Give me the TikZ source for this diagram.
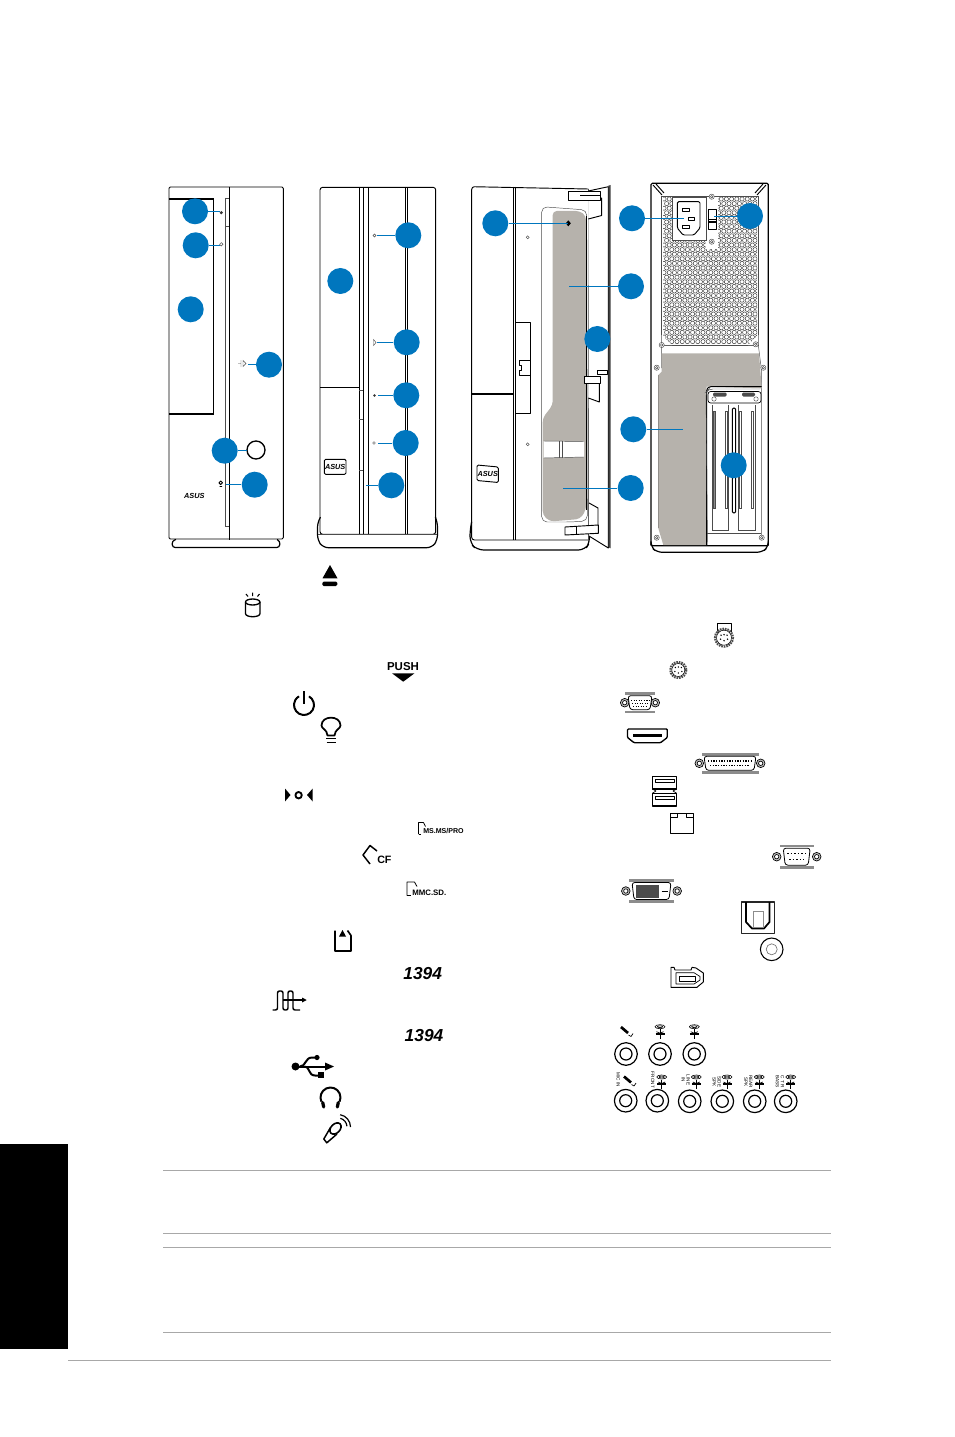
\documentclass[tikz,border=0pt]{standalone}
\usepackage{fontspec}
\setmainfont{Liberation Sans}
\definecolor{calloutblue}{HTML}{0076BE}
\definecolor{panelgray}{HTML}{B6B2AC}
\definecolor{rulegray}{HTML}{A8A8A8}
\tikzset{
  callout/.style={circle, fill=calloutblue, inner sep=0pt, minimum size=19.5pt},
  leader/.style={calloutblue, line width=0.6pt},
  caseline/.style={black, line width=0.7pt, line join=round},
  hairline/.style={black!70, line width=0.35pt},
  icon/.style={black, line width=1pt, line join=round},
  portline/.style={black, line width=0.5pt, line join=round},
  rulerline/.style={rulegray, line width=0.6pt},
  logotext/.style={inner sep=0pt, font=\bfseries\itshape\fontsize{5.5}{6}\selectfont},
  jacktext/.style={inner sep=0pt, rotate=-90, align=center, font=\fontsize{3.5}{3.7}\selectfont},
}
\begin{document}
\begin{tikzpicture}[x=0.75pt, y=-0.75pt]
  \useasboundingbox (0,0) rectangle (954,1437);

  % side tab and rules of the page
  \fill[black] (0,1144) rectangle (68,1349);
  \draw[rulerline] (163,1170) -- (831,1170);
  \draw[rulerline] (163,1233.5) -- (831,1233.5);
  \draw[rulerline] (163,1247) -- (831,1247);
  \draw[rulerline] (163,1332) -- (831,1332);
  \draw[rulerline] (68,1360) -- (831,1360);

  % 1. front, door closed
  \draw[caseline, rounded corners=1pt] (169,539) -- (169,187) -- (283.3,187) -- (283.3,539) -- cycle;
  \draw[caseline, line width=1pt] (229.3,187) -- (229.3,540);
  \draw[caseline, line width=0.9pt, rounded corners=2pt] (176,539.5) -- (172,541) -- (172.5,547.5) -- (279.5,547.5) -- (280,541) -- (277,539.5);
  \draw[black, line width=1.2pt] (169,199) -- (213.3,199) -- (213.3,414) -- (169,414);
  \draw[hairline] (225.7,198) -- (225.7,526.7) -- (229,526.7);
  \draw[hairline] (225.7,198) -- (229,198);
  \draw[hairline] (225.7,226) -- (229,226);
  \draw[caseline, line width=1pt, fill=white] (256,450) circle (9);
  \fill[black!80] (221.3,212.7) circle (1.7);
  \draw[hairline] (221.3,244.3) circle (1.7);
  \draw[hairline] (241,360) -- (241,367) (238,363.5) -- (241,363.5) (243,360.5) -- (246,363.5) -- (243,366.5) -- cycle;
  \draw[caseline] (220.7,482.8) circle (1.8) (219.5,486.5) -- (222,486.5);
  \node[logotext] (logoa) at (194.3,496) {ASUS};

  % 2. front, door open
  \draw[caseline, rounded corners=2pt] (320,534.3) -- (320,187.3) -- (435.7,187.3) -- (435.7,534.3) -- cycle;
  \draw[caseline, line width=0.9pt, rounded corners=4pt] (320,518) -- (317.5,522) -- (317.5,540) -- (323,547.7) -- (432,547.7) -- (437.5,540) -- (437.5,522) -- (435.7,518);
  \draw[hairline] (318,534.3) -- (437,534.3);
  \draw[caseline, line width=0.9pt] (359.3,187.3) -- (359.3,534.3);
  \draw[caseline, line width=0.9pt] (363.3,187.3) -- (363.3,534.3);
  \draw[caseline, line width=0.9pt] (368.3,187.3) -- (368.3,534.3);
  \draw[caseline, line width=0.9pt] (405.7,187.3) -- (405.7,534.3);
  \draw[caseline, line width=0.9pt] (407.7,187.3) -- (407.7,534.3);
  \draw[caseline, line width=1pt] (320,387.7) -- (359.3,387.7);
  \draw[hairline] (359.3,390) -- (363.3,390) (359.3,419) -- (363.3,419) (359.3,470) -- (363.3,470);
  \draw[caseline, rounded corners=1pt] (324.3,459.3) rectangle (346,474.3);
  \node[logotext] (logob) at (335.2,466.8) {ASUS};
  \draw[hairline] (374.5,235.5) circle (1.5);
  \draw[hairline] (373.5,339.5) -- (373.5,345.5) -- (376,342.5) -- cycle;
  \fill[black!80] (374.5,395.5) circle (1.4);
  \draw[hairline] (374,443) circle (1.4);

  % 3. side, cover off
  \draw[caseline, rounded corners=2pt] (588.3,540) -- (471.7,540) -- (471.7,186.7) -- (588.3,189);
  \draw[caseline, line width=0.9pt, rounded corners=5pt] (471.7,521.7) -- (470,530) -- (470,543) -- (477,550) -- (585,550) -- (590,542) -- (589,530);
  \draw[caseline] (513.3,186.7) -- (513.3,540);
  \draw[caseline] (515.7,186.7) -- (515.7,540);
  \draw[caseline, line width=1pt] (471.7,394) -- (513.3,394);
  \draw[hairline] (588.3,189) -- (588.3,540);
  \draw[caseline] (515.7,322.3) -- (530,322.3) -- (530,413.3) -- (515.7,413.3);
  \draw[portline, fill=white] (519,360) -- (530,360) -- (530,375) -- (519,375) -- (519,370) -- (521,370) -- (521,365) -- (519,365) -- cycle;
  \draw[caseline, rounded corners=1pt] (477,465) -- (498.3,467) -- (498.3,482.5) -- (477,480.5) -- cycle;
  \node[logotext] (logoc) at (487.7,473.8) {ASUS};
  \draw[hairline] (527.7,237.3) circle (1.5);
  \draw[hairline] (527.7,444.3) circle (1.5);
  % panel of the side cover
  \draw[hairline, rounded corners=4pt] (541.7,206.7) -- (586.7,210) -- (587.3,521) -- (570,522) -- (541.7,522) -- cycle;
  \fill[panelgray, rounded corners=3pt] (552.7,211) -- (580,211) -- (586,216) -- (586,510) -- (580,519) -- (550,521.5) -- (542.7,515) -- (542.7,418) -- (552.7,405) -- cycle;
  \draw[caseline] (586.3,216) -- (586.3,510);
  \fill[white] (543.5,441) -- (584,441.5) -- (584,457) -- (543.5,458) -- cycle;
  \draw[hairline] (543.5,441) -- (584,441.5) (543.5,458) -- (584,457);
  \draw[hairline] (559.5,441) -- (559.5,458) (562.5,441) -- (562.5,458);
  \fill[black] (568.3,220.3) -- (570.8,223.3) -- (568.3,226.3) -- (565.8,223.3) -- cycle;
  % door with its clips
  \draw[caseline, fill=white] (588.3,191) -- (608.3,186.7) -- (608.3,548) -- (589,536);
  \fill[black!75] (608.3,185.7) -- (610.7,185) -- (610.7,548.3) -- (608.3,547) -- cycle;
  \draw[caseline, fill=white] (588.3,198) -- (601.7,198) -- (601.7,215.5) -- (588.3,219);
  \draw[caseline, fill=white] (568.3,191.7) -- (600,191.7) -- (600,200) -- (568.3,200) -- cycle;
  \draw[caseline] (580,195) -- (600,195);
  \draw[caseline, fill=white] (597.3,370.7) rectangle (607.3,374);
  \draw[caseline, fill=white] (588.3,383.3) -- (599.3,383.3) -- (599.3,402) -- (588.3,398);
  \draw[caseline, fill=white] (584,376.7) rectangle (600,383.3);
  \draw[caseline, fill=white] (589,503) -- (598,508) -- (598,530) -- (589,530);
  \draw[caseline, fill=white] (565,527) -- (598.3,525) -- (598.3,533.3) -- (565,535) -- cycle;
  \draw[caseline] (576,526.5) -- (576,534.5);

  % 4. rear
  \draw[caseline, line width=0.9pt, rounded corners=1pt] (651,545.7) -- (651,183.3) -- (768.3,183.3) -- (768.3,545.7) -- cycle;
  \draw[caseline, line width=0.9pt, rounded corners=4pt] (651,545.7) -- (651,547) -- (657,552.3) -- (762,552.3) -- (768.3,547) -- (768.3,545.7);
  \draw[caseline] (653,185) -- (662,195) (656,184) -- (664,193);
  \draw[caseline] (766,185) -- (757,195) (763,184) -- (755,193);
  \draw[hairline] (661.7,196.7) -- (758.3,196.7) -- (758.3,345) -- (661.7,345) -- cycle;
  \draw[hairline] (661.7,345) -- (661.7,368) (758.3,345) -- (761.7,372) -- (761.7,537);
  \draw[hairline] (658.3,375) -- (658.3,528);
  % perforated grille
  \begin{scope}
    \clip (663,198) rectangle (757,344);
    \foreach \row in {0,...,31}{
      \foreach \col in {0,...,18}{
        \pgfmathsetmacro{\hx}{664+\col*5.2+mod(\row,2)*2.6}
        \pgfmathsetmacro{\hy}{199+\row*4.6}
        \draw[black!80, line width=0.35pt] (\hx,\hy) circle (2.1);
      }
    }
  \end{scope}
  \fill[white] (672.7,197.3) rectangle (718,240);
  \fill[white] (706,238) rectangle (718,249);
  \fill[white] (661.7,335) -- (672,345) -- (661.7,345) -- cycle;
  \fill[white] (758.3,335) -- (748,345) -- (758.3,345) -- cycle;
  \draw[hairline] (672.7,197.3) rectangle (706.7,240);
  \draw[caseline, rounded corners=1pt] (677.3,201.7) -- (700,201.7) -- (700,228) -- (694,235) -- (683,235) -- (677.3,228) -- cycle;
  \draw[portline] (682.3,208.3) rectangle (689,211.7);
  \draw[portline] (688.3,217.3) rectangle (694.3,220);
  \draw[portline] (682.3,225) rectangle (689,228.3);
  \draw[portline, line width=0.9pt] (708.3,209.3) rectangle (716.7,229.3) (708.3,219.3) -- (716.7,219.3);
  \fill[white] (710,213) rectangle (715,217);
  \fill[black] (709,221) rectangle (716,223);
  \foreach \sx/\sy in {711.7/196.7,711.7/241.7,661.7/345,755.7/344.3,656.7/367.7,763.3/367.7,656.7/537.7,761.7/537.7}{
    \draw[hairline, fill=white] (\sx,\sy) circle (2.6);
    \draw[hairline] (\sx,\sy) circle (1.3);
  }
  % gray area and expansion slots
  \fill[panelgray] (661.7,353.3) -- (759,353.3) -- (761.7,388.3) -- (706.7,386.7) -- (706.7,545) -- (663.3,545) -- (658.3,528.3) -- (658.3,375) -- (661.7,371.7) -- cycle;
  \draw[caseline, rounded corners=3pt] (706.7,545) -- (706.7,386.7) -- (761.7,386.7);
  \draw[hairline, rounded corners=3pt] (707.5,545) -- (706,392) -- (709,389) -- (760,389);
  \draw[portline, fill=white, rounded corners=2pt] (708,391.5) -- (761,391.5) -- (761,403) -- (708,403) -- cycle;
  \fill[black!70, rounded corners=1pt] (713,392.5) rectangle (726.7,396.5);
  \fill[black!70, rounded corners=1pt] (742,392.5) rectangle (755,396.5);
  \draw[hairline] (714,399) circle (2.2) (756,399) circle (2.2);
  \draw[hairline] (712.7,405) -- (712.7,530) -- (728.3,530) -- (728.3,405);
  \draw[hairline] (738.3,405) -- (738.3,530) -- (755,530) -- (755,405);
  \draw[hairline, fill=black!45] (713.3,411.7) rectangle (715.7,508);
  \draw[hairline, fill=white] (725.7,411.7) rectangle (727.7,508);
  \draw[hairline, fill=white] (739,411.7) rectangle (741,508);
  \draw[hairline, fill=white] (751.7,411.7) rectangle (753.7,508);
  \draw[portline, line width=0.7pt, rounded corners=1pt, fill=white] (732.3,408) rectangle (735.7,513);
  \draw[hairline] (707,533.5) -- (761,533.5);

  % callouts of all four views
  \node[callout] (a1) at (195,211.3) {};
  \node[callout] (a2) at (195.7,245.3) {};
  \node[callout] (a3) at (190.7,309.3) {};
  \node[callout] (a4) at (269,364.7) {};
  \node[callout] (a5) at (224.7,450.7) {};
  \node[callout] (a6) at (254.7,484.7) {};
  \node[callout] (b1) at (408.3,235.3) {};
  \node[callout] (b2) at (340.3,281) {};
  \node[callout] (b3) at (406.7,342.3) {};
  \node[callout] (b4) at (406.3,395.3) {};
  \node[callout] (b5) at (405.7,443) {};
  \node[callout] (b6) at (391.3,485.3) {};
  \node[callout] (c1) at (495.3,223.3) {};
  \node[callout] (c2) at (631,286.3) {};
  \node[callout] (c3) at (597.3,339) {};
  \node[callout] (c4) at (630.7,488) {};
  \node[callout] (d1) at (632,218.3) {};
  \node[callout] (d2) at (750,216) {};
  \node[callout] (d3) at (633.3,429.3) {};
  \node[callout] (d4) at (733.7,465.3) {};
  \coordinate (ea1) at (219.5,211.3);
  \coordinate (ea2) at (219.5,245.3);
  \coordinate (ea4) at (248,364.7);
  \coordinate (ea5) at (247,450.7);
  \coordinate (ea6) at (226,484.7);
  \coordinate (eb1) at (376.7,235.3);
  \coordinate (eb3) at (376.7,342.3);
  \coordinate (eb4) at (378,395.3);
  \coordinate (eb5) at (378,443);
  \coordinate (eb6) at (366,485.3);
  \coordinate (ec1) at (568.3,223.3);
  \coordinate (ec2) at (569,286.3);
  \coordinate (ec4) at (562.7,488);
  \coordinate (ed1) at (684,218.3);
  \coordinate (ed2) at (714,216);
  \coordinate (ed3) at (682.7,429.3);
  \draw[leader] (a1) -- (ea1);
  \draw[leader] (a2) -- (ea2);
  \draw[leader] (a4) -- (ea4);
  \draw[leader] (a5) -- (ea5);
  \draw[leader] (a6) -- (ea6);
  \draw[leader] (b1) -- (eb1);
  \draw[leader] (b3) -- (eb3);
  \draw[leader] (b4) -- (eb4);
  \draw[leader] (b5) -- (eb5);
  \draw[leader] (b6) -- (eb6);
  \draw[leader] (c1) -- (ec1);
  \draw[leader] (c2) -- (ec2);
  \draw[leader] (c4) -- (ec4);
  \draw[leader] (d1) -- (ed1);
  \draw[leader] (d2) -- (ed2);
  \draw[leader] (d3) -- (ed3);

  % icons of the left list
  \fill[black] (330,565) -- (337.5,578.3) -- (322.5,578.3) -- cycle;
  \fill[black, rounded corners=1pt] (322.3,581.7) rectangle (337.3,586);
  % drive
  \draw[icon] (245.5,602) -- (245.5,613.5) .. controls (245.5,617.8) and (260,617.8) .. (260,613.5) -- (260,602);
  \draw[icon] (252.7,602) ellipse (7.2 and 3);
  \draw[icon, line width=0.8pt] (252.7,592.7) -- (252.7,596) (246,594) -- (248,596.5) (259.5,594) -- (257.5,596.5);
  % door latch
  \node[inner sep=0pt, font=\bfseries\fontsize{8.6}{9}\selectfont] (pushtext) at (403,666.5) {PUSH};
  \fill[black] (392,673.3) -- (414.5,673.3) -- (403.2,681.7) -- cycle;
  % power
  \draw[icon, line width=1.5pt] (304,705) ++(-60:10) arc (-60:240:10);
  \draw[icon, line width=1.5pt] (304,691) -- (304,703.5);
  % lamp
  \draw[icon, line width=1.3pt] (327.5,735.5) .. controls (327,729) and (321.5,729) .. (321.5,725.5) .. controls (321.5,715) and (340.5,715) .. (340.5,725.5) .. controls (340.5,729) and (335,729) .. (334.5,735.5) -- cycle;
  \draw[icon, line width=1.1pt] (326,738.5) -- (336,738.5) (326.5,742.7) -- (335.5,742.7);
  % front door icon
  \fill[black] (285,788.5) -- (290.5,795) -- (285,801.5) -- cycle;
  \fill[black] (312.7,788.5) -- (307,795) -- (312.7,801.5) -- cycle;
  \draw[icon, line width=1.4pt] (298.6,795.2) circle (3.2);
  % card reader slots
  \draw[icon, line width=0.6pt] (418.5,834) -- (418.5,822.5) -- (423.5,822.5) -- (425.5,826.5);
  \draw[icon, line width=0.6pt] (418.5,834) -- (421,834);
  \node[anchor=west, inner sep=0pt, font=\bfseries\fontsize{5.3}{6}\selectfont] (mstext) at (423,831.3) {MS.MS/PRO};
  \draw[icon, line width=1.1pt] (377,851) -- (370,845.5) -- (363,855) -- (370,864);
  \node[anchor=west, inner sep=0pt, font=\bfseries\fontsize{8}{9}\selectfont] (cftext) at (377,859.5) {CF};
  \draw[icon, line width=0.6pt] (406.9,895.5) -- (406.9,882) -- (414.5,882) -- (417,886.5);
  \draw[icon, line width=0.6pt] (406.9,895.5) -- (411,895.5);
  \node[anchor=west, inner sep=0pt, font=\bfseries\fontsize{5.9}{6}\selectfont] (sdtext) at (412,892.9) {MMC.SD.};
  \draw[icon, line width=1.2pt] (335,930.5) -- (335,951) -- (351,951) -- (351,935.5) -- (347.5,930.5);
  \fill[black] (342.5,930) -- (346,936.5) -- (339,936.5) -- cycle;
  \node[inner sep=0pt, font=\bfseries\itshape\fontsize{13}{14}\selectfont] (firetexta) at (422.7,973.7) {1394};
  % spdif
  \draw[icon, line width=1.1pt, rounded corners=1.5pt] (272.5,1010) -- (277.5,1010) -- (277.5,991) -- (283,991) -- (283,1010) -- (288,1010) -- (288,991) -- (293,991) -- (293,1010) -- (300,1010);
  \draw[icon, line width=1.1pt] (283,1000) -- (303,1000);
  \fill[black] (302,997.5) -- (306.7,1000) -- (302,1002.5) -- cycle;
  \node[inner sep=0pt, font=\bfseries\itshape\fontsize{13}{14}\selectfont] (firetextb) at (424,1035.4) {1394};
  % usb
  \fill[black] (295.5,1066.5) circle (4);
  \draw[icon, line width=1.5pt] (296,1066.5) -- (326,1066.5);
  \fill[black] (325,1062.5) -- (334,1066.5) -- (325,1070.5) -- cycle;
  \draw[icon, line width=1.5pt] (300,1066.5) .. controls (306,1066.5) and (305,1057.5) .. (312,1057.5) -- (316,1057.5);
  \draw[icon, line width=1.5pt] (305,1066.5) .. controls (310,1066.5) and (308,1075.5) .. (315,1075.5) -- (320,1075.5);
  \fill[black] (317,1057.5) circle (2.6);
  \fill[black] (318,1072.3) rectangle (323.5,1077.8);
  % headphone
  \draw[icon, line width=1.5pt] (330.5,1097.5) ++(155:10) arc (-205:25:10);
  \draw[icon, line width=2.4pt, line cap=round] (322.7,1102.5) -- (323.7,1107) (338.3,1102.5) -- (337.3,1107);
  % microphone
  \draw[icon, line width=1.1pt] (330.5,1127.5) -- (323.8,1139) -- (326.8,1142.8) -- (337,1134);
  \draw[icon, line width=1.2pt, fill=white, rotate around={45:(335.5,1128.5)}] (335.5,1128.5) ellipse (6.5 and 4.5);
  \draw[icon, line width=0.9pt] (338,1127) ++(-75:9) arc (-75:-5:9);
  \draw[icon, line width=0.9pt] (338,1127) ++(-80:12.5) arc (-80:0:12.5);

  % icons of the right list
  \draw[portline, line width=0.4pt] (717.5,632) -- (717.5,623.5) -- (731.5,623.5) -- (731.5,632);
  \foreach \px/\py/\pr in {724/637.7/10,678.3/670/9}{
    \draw[black!70, line width=1.6pt, dash pattern=on 1.2pt off 0.7pt, fill=white] (\px,\py) circle (\pr-1);
    \draw[portline, line width=0.4pt] (\px,\py) circle (\pr-2.5);
    \fill[black] (\px-3,\py-2.5) circle (0.8) (\px+3,\py-2.5) circle (0.8) (\px,\py-3) circle (0.8) (\px-3.5,\py+1.5) circle (0.8) (\px+3.5,\py+1.5) circle (0.8) (\px,\py+3) circle (0.8);
  }
  % d shells
  \foreach \cx/\cy/\hw/\hh/\bw/\so in {640/702.7/10.5/7/15/15.3,730/763.3/24.5/7/28.5/30.7,796.7/856.7/12/8.5/17/20,651.5/891/18/8.5/22.5/25.7}{
    \fill[black!45] (\cx-\bw,\cy-\hh-3.5) rectangle (\cx+\bw,\cy-\hh-0.8);
    \fill[black!45] (\cx-\bw,\cy+\hh+0.8) rectangle (\cx+\bw,\cy+\hh+3.5);
    \draw[portline, fill=black!25] (\cx-\so,\cy) circle (4.3);
    \draw[portline, fill=black!25] (\cx+\so,\cy) circle (4.3);
    \draw[portline, fill=white] (\cx-\so,\cy) circle (2.2);
    \draw[portline, fill=white] (\cx+\so,\cy) circle (2.2);
    \draw[portline, line width=0.6pt, fill=white, rounded corners=2pt] (\cx-\hw-1.5,\cy-\hh) -- (\cx+\hw+1.5,\cy-\hh) -- (\cx+\hw-0.5,\cy+\hh) -- (\cx-\hw+0.5,\cy+\hh) -- cycle;
  }
  \draw[black, line width=1pt, dash pattern=on 1pt off 0.9pt] (631,700.5) -- (649,700.5) (632,703.5) -- (648,703.5) (633,706.5) -- (647,706.5);
  \draw[black, line width=1pt, dash pattern=on 1pt off 1pt] (708,761) -- (752,761) (710,765.5) -- (750,765.5);
  \draw[black, line width=1.1pt, dash pattern=on 1.2pt off 1.5pt] (787,853.5) -- (806,853.5) (789,859.5) -- (804,859.5);
  \fill[black!70] (636,884.5) rectangle (659.3,897.5);
  \draw[black, line width=0.7pt] (661.5,891.5) -- (667.5,891.5);
  % hdmi
  \draw[icon, rounded corners=0.7pt] (627.5,729) -- (667.3,729) -- (667.3,737.5) -- (660.5,742.7) -- (634,742.7) -- (627.5,737.5) -- cycle;
  \draw[icon, line width=1.6pt] (633,735.5) -- (662,735.5);
  % usb pair
  \draw[icon, line width=0.9pt] (652.3,776.7) rectangle (676.7,789);
  \draw[icon, line width=0.9pt] (652.3,793.3) rectangle (676.7,806);
  \draw[portline] (655,779.5) rectangle (674,782.5);
  \draw[portline] (655,796) rectangle (674,799);
  \draw[portline] (652.3,789) -- (656,791) -- (652.3,793.3) (676.7,789) -- (673,791) -- (676.7,793.3);
  % lan
  \draw[portline, line width=0.7pt] (670.3,813.3) rectangle (693.7,833.3);
  \draw[portline, line width=0.7pt] (670.3,817.5) -- (677.7,817.5) -- (677.7,813.3) (693.7,817.5) -- (686,817.5) -- (686,813.3);
  % optical
  \draw[icon, line width=1.2pt, black!85] (741.3,901.7) rectangle (774.3,933.3);
  \draw[icon, line width=1.3pt] (746,902) -- (746,922) -- (752,928.5) -- (764,928.5) -- (769.5,922) -- (769.5,902);
  \draw[black!45, line width=0.5pt] (753.3,911.7) rectangle (763.3,927);
  % coaxial
  \draw[portline, line width=0.8pt] (771.7,949.3) circle (11.3);
  \draw[black!55, line width=0.5pt] (771.7,949.3) circle (5.5);
  % 1394 port
  \draw[portline, line width=0.7pt] (671,987.3) -- (671,967.3) -- (674,967.3) -- (675,970) -- (691,970) -- (692,967.3) -- (696,968) -- (703.3,973) -- (703.3,982) -- (697,987.3) -- cycle;
  \draw[portline] (676,972.7) -- (694,972.7) -- (700,976.5) -- (700,980) -- (694,984) -- (676,984) -- cycle;
  \draw[portline] (679,976) rectangle (695,981);

  % audio jacks
  \foreach \jx/\jy in {626/1054,660/1054,694.3/1054,625.7/1100.7,657.3/1100.7,689.7/1101.3,722.3/1101.3,754.7/1101.3,785.7/1101.3}{
    \draw[portline, line width=0.9pt] (\jx,\jy) circle (11.3);
    \draw[portline, line width=0.9pt] (\jx,\jy) circle (6);
  }
  % speaker marks
  \foreach \sx/\sy in {660/1031.7,694.3/1031.7,661.7/1082,696.3/1082,727/1082,759.3/1082,790.7/1082}{
    \draw[portline, line width=0.45pt] (\sx,\sy-5) ellipse (5 and 2);
    \draw[portline, line width=0.45pt] (\sx,\sy-5) ellipse (2.7 and 0.9);
    \draw[portline, line width=0.7pt] (\sx,\sy-2.5) -- (\sx,\sy+7);
    \draw[portline, line width=1.2pt] (\sx-4.5,\sy+2) -- (\sx+4.5,\sy+2);
    \draw[portline, line width=0.5pt] (\sx-3.5,\sy) -- (\sx,\sy+1.5) -- (\sx+3.5,\sy);
  }
  % mic marks
  \foreach \mx/\my in {621/1027,624/1076.5}{
    \draw[black, line width=2pt] (\mx,\my) -- (\mx+7,\my+6);
    \draw[portline] (\mx+7.5,\my+8) -- (\mx+10,\my+9.5) -- (\mx+12,\my+6.5);
  }
  \node[jacktext] (micin) at (618.3,1080) {MIC IN};
  \node[jacktext] (front) at (652.7,1080) {FRONT};
  \node[jacktext] (linein) at (685.7,1080) {LINE\\IN};
  \node[jacktext] (sidespk) at (716.7,1081.7) {SIDE\\SPK};
  \node[jacktext] (rearspk) at (748.3,1081.7) {REAR\\SPK};
  \node[jacktext] (ctrbass) at (780,1081.7) {C T R\\BASS};
\end{tikzpicture}
\end{document}
